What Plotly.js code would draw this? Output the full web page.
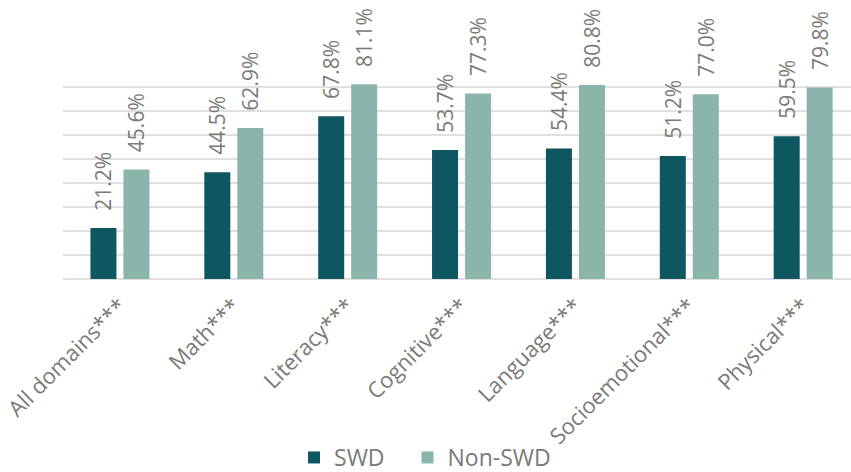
<!DOCTYPE html>
<html>
<head>
<meta charset="utf-8">
<script src="https://cdn.plot.ly/plotly-3.0.1.min.js"></script>
<style>
  html, body { margin: 0; padding: 0; background: #ffffff; }
  #chart { width: 851px; height: 472px; }
</style>
</head>
<body>
<div id="chart"></div>
<script>
const categories = ["All domains***", "Math***", "Literacy***", "Cognitive***", "Language***", "Socioemotional***", "Physical***"];
const swdValues = [21.2, 44.5, 67.8, 53.7, 54.4, 51.2, 59.5];
const nonSwdValues = [45.6, 62.9, 81.1, 77.3, 80.8, 77.0, 79.8];
const seriesNames = ["SWD", "Non-SWD"];

const textColor = "#7a7a78";
const fontFamily = "'Open Sans', 'Noto Sans', sans-serif";
const pad = "\u00a0\u00a0\u2009";

function labels(vals) {
  return vals.map(v => pad + v.toFixed(1) + "%");
}

const traces = [
  {
    type: "bar", name: seriesNames[0] + "\u00a0\u00a0\u00a0", x: categories, y: swdValues,
    marker: { color: "#0e5660" },
    text: labels(swdValues), textposition: "outside", textangle: -90,
    textfont: { family: fontFamily, size: 21, color: textColor },
    constraintext: "none", cliponaxis: false, hoverinfo: "skip"
  },
  {
    type: "bar", name: seriesNames[1], x: categories, y: nonSwdValues,
    marker: { color: "#8bb5ab" },
    text: labels(nonSwdValues), textposition: "outside", textangle: -90,
    textfont: { family: fontFamily, size: 21, color: textColor },
    constraintext: "none", cliponaxis: false, hoverinfo: "skip"
  }
];

const layout = {
  width: 851, height: 472,
  margin: { l: 62.6, r: 0, t: 63.3, b: 192.7, pad: 0 },
  paper_bgcolor: "#ffffff", plot_bgcolor: "#ffffff",
  barmode: "group", bargap: 0.4206, bargroupgap: 0.212,
  font: { family: fontFamily, color: textColor },
  showlegend: true,
  legend: {
    orientation: "h", xref: "container", yref: "container",
    x: 0.3455, xanchor: "left", y: 0.0307, yanchor: "middle",
    font: { family: fontFamily, size: 23, color: textColor },
    bgcolor: "rgba(0,0,0,0)", traceorder: "normal"
  },
  xaxis: {
    type: "category", range: [-0.5, 6.42], tickangle: -45,
    tickfont: { family: fontFamily, size: 22, color: textColor },
    ticklabelstandoff: 9,
    showgrid: false, zeroline: false, showline: false, ticks: "", automargin: false
  },
  yaxis: {
    range: [0, 90], dtick: 10, tick0: 0, showticklabels: false,
    showgrid: true, gridcolor: "#e0e0e0", gridwidth: 1.5,
    zeroline: true, zerolinecolor: "#e0e0e0", zerolinewidth: 1.5,
    showline: false, ticks: "", automargin: false
  }
};

Plotly.newPlot("chart", traces, layout, { displayModeBar: false, staticPlot: true });
</script>
</body>
</html>
